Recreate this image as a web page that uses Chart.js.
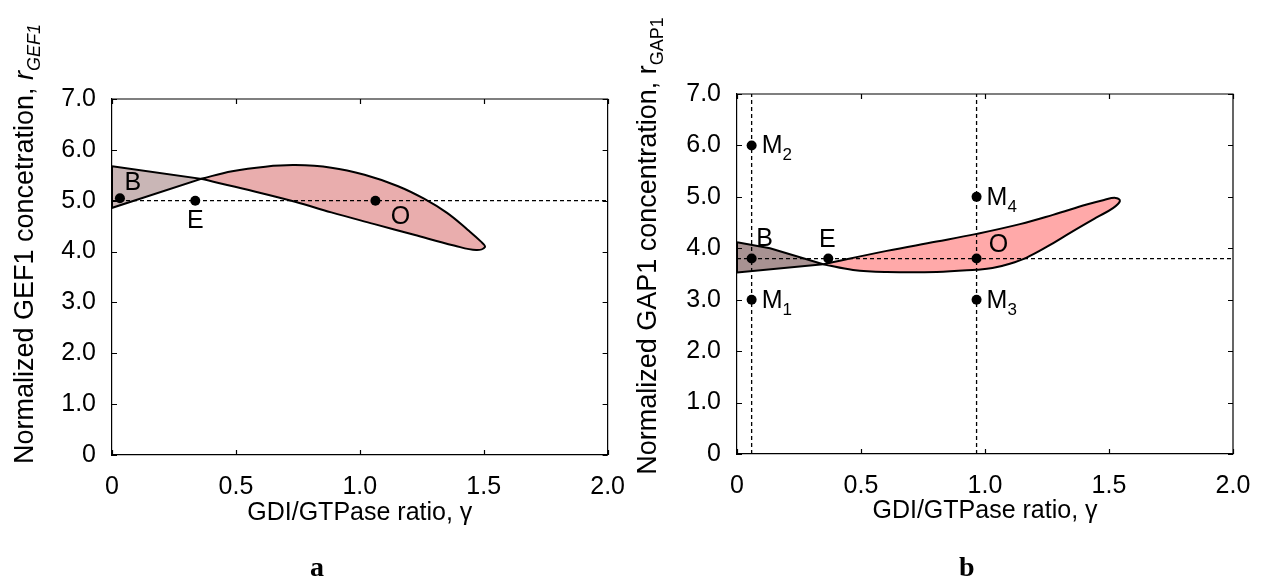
<!DOCTYPE html>
<html>
<head>
<meta charset="utf-8">
<script src="https://cdn.jsdelivr.net/npm/chart.js@4.4.0/dist/chart.umd.min.js"></script>
<style>
  body { margin: 0; background: #fff; width: 1268px; height: 585px; position: relative; overflow: hidden; }
  canvas { position: absolute; top: 0; }
  #chartA { left: 0; }
  #chartB { left: 634px; }
  .tag { position: absolute; top: 551px; line-height: 1; font: bold 28px "Liberation Serif", "Times New Roman", serif; }
</style>
</head>
<body>
<canvas id="chartA" width="634" height="585"></canvas>
<canvas id="chartB" width="634" height="585"></canvas>
<div class="tag" style="left:310px">a</div>
<div class="tag" style="left:959px">b</div>
<script>
// tick values, shared by both panels
const xTickVals = [0, 0.5, 1.0, 1.5, 2.0];
const yTickVals = [0, 1, 2, 3, 4, 5, 6, 7];

// panel a: GEF1
const aBistable = [
  {x: 0, y: 5.68}, {x: 0.359, y: 5.43}, {x: 0, y: 4.86}, {x: 0, y: 5.68}
];
const aOscillating = [
  {x: 0.359, y: 5.43}, {x: 0.485, y: 5.58}, {x: 0.619, y: 5.67}, {x: 0.739, y: 5.70},
  {x: 0.885, y: 5.65}, {x: 1.019, y: 5.51}, {x: 1.152, y: 5.29}, {x: 1.259, y: 5.04},
  {x: 1.352, y: 4.76}, {x: 1.435, y: 4.43}, {x: 1.488, y: 4.20}, {x: 1.505, y: 4.09},
  {x: 1.470, y: 4.03}, {x: 1.380, y: 4.12}, {x: 1.219, y: 4.33}, {x: 1.059, y: 4.54},
  {x: 0.885, y: 4.77}, {x: 0.739, y: 4.98}, {x: 0.552, y: 5.21}, {x: 0.359, y: 5.43}
];
const aLevel = [{x: 0, y: 5.0}, {x: 2.0, y: 5.0}];
const aPoints = [{x: 0.032, y: 5.05}, {x: 0.336, y: 5.0}, {x: 1.063, y: 5.0}];
const aNames = ['B', 'E', 'O'];

// panel b: GAP1
const bBistable = [
  {x: 0, y: 4.12}, {x: 0.133, y: 4.0}, {x: 0.348, y: 3.69}, {x: 0, y: 3.53}, {x: 0, y: 4.12}
];
const bOscillating = [
  {x: 0.348, y: 3.69}, {x: 0.604, y: 3.95}, {x: 0.805, y: 4.13}, {x: 0.966, y: 4.28},
  {x: 1.141, y: 4.47}, {x: 1.274, y: 4.65}, {x: 1.410, y: 4.85}, {x: 1.480, y: 4.94},
  {x: 1.526, y: 4.98}, {x: 1.544, y: 4.92}, {x: 1.516, y: 4.78}, {x: 1.450, y: 4.60},
  {x: 1.350, y: 4.32}, {x: 1.250, y: 4.03}, {x: 1.168, y: 3.82}, {x: 1.100, y: 3.70},
  {x: 1.030, y: 3.615}, {x: 0.966, y: 3.585}, {x: 0.805, y: 3.54}, {x: 0.604, y: 3.54},
  {x: 0.468, y: 3.58}, {x: 0.348, y: 3.69}
];
const bLevel = [{x: 0, y: 3.8}, {x: 2.0, y: 3.8}];
const bCut1 = [{x: 0.059, y: 0}, {x: 0.059, y: 7}];
const bCut2 = [{x: 0.966, y: 0}, {x: 0.966, y: 7}];
const bPoints = [
  {x: 0.059, y: 6.0}, {x: 0.059, y: 3.8}, {x: 0.059, y: 3.0}, {x: 0.368, y: 3.8},
  {x: 0.966, y: 5.0}, {x: 0.966, y: 3.8}, {x: 0.966, y: 3.0}
];
const bNames = [['M', '2'], ['B', ''], ['M', '1'], ['E', ''], ['M', '4'], ['O', ''], ['M', '3']];

const FONT = '"Liberation Sans", Arial, sans-serif';

function fmt(v) {
  return v === 0 ? '0' : Number(v).toFixed(1);
}

function shape(data, color, tension) {
  return { data, showLine: true, fill: 'shape', backgroundColor: color, borderColor: '#000',
    borderWidth: 2, pointRadius: 0, tension, order: 3 };
}
function dashed(data) {
  return { data, showLine: true, fill: false, borderColor: '#000', borderWidth: 1.3,
    borderDash: [4, 3], pointRadius: 0, order: 2 };
}
function dots(data) {
  return { data, showLine: false, pointRadius: 5, pointBackgroundColor: '#000',
    pointBorderWidth: 0, order: 1 };
}

// draw a run of text pieces one after another
function richText(ctx, parts, x, y, align) {
  let w = 0;
  parts.forEach(p => { ctx.font = p.font; w += ctx.measureText(p.t).width; });
  let cx = align === 'center' ? x - w / 2 : x;
  ctx.textAlign = 'left';
  ctx.textBaseline = 'alphabetic';
  parts.forEach(p => {
    ctx.font = p.font;
    ctx.fillText(p.t, cx, y + (p.dy || 0));
    cx += ctx.measureText(p.t).width;
  });
}

const panelDeco = {
  id: 'panelDeco',
  afterDraw(chart, args, opts) {
    const { ctx, chartArea: a, scales: { x, y } } = chart;
    ctx.save();
    ctx.strokeStyle = '#000';
    ctx.lineWidth = 1.2;
    ctx.beginPath();
    ctx.moveTo(a.left, a.top);
    ctx.lineTo(a.right, a.top);
    ctx.lineTo(a.right, a.bottom);
    xTickVals.forEach(v => {
      const px = Math.round(x.getPixelForValue(v)) + 0.5;
      ctx.moveTo(px, a.bottom); ctx.lineTo(px, a.bottom - 5);
      ctx.moveTo(px, a.top); ctx.lineTo(px, a.top + 5);
    });
    yTickVals.forEach(v => {
      const py = Math.round(y.getPixelForValue(v)) + 0.5;
      ctx.moveTo(a.left, py); ctx.lineTo(a.left + 5, py);
      ctx.moveTo(a.right, py); ctx.lineTo(a.right - 5, py);
    });
    ctx.stroke();

    ctx.fillStyle = '#000';
    const big = '25px ' + FONT, small = '17px ' + FONT;
    opts.points.forEach((p, i) => {
      const [name, sub] = opts.names[i];
      const off = opts.offsets[i];
      const parts = [{t: name, font: big}];
      if (sub) parts.push({t: sub, font: small, dy: 7});
      richText(ctx, parts, x.getPixelForValue(p.x) + off[0], y.getPixelForValue(p.y) + off[1], off[2]);
    });

    // x axis title
    richText(ctx, [{t: 'GDI/GTPase ratio, \u03b3', font: '25px ' + FONT}],
      (a.left + a.right) / 2, opts.xTitleY, 'center');

    // y axis title, rotated
    ctx.save();
    ctx.translate(opts.yTitleX, opts.yTitleY);
    ctx.rotate(-Math.PI / 2);
    richText(ctx, opts.yTitle, 0, 0, 'center');
    ctx.restore();
    ctx.restore();
  }
};

function makePanel(id, datasets, pad, yWidth, xHeight, deco) {
  return new Chart(document.getElementById(id), {
    type: 'scatter',
    data: { datasets },
    options: {
      responsive: false,
      animation: false,
      devicePixelRatio: 1,
      layout: { padding: pad },
      plugins: { legend: { display: false }, tooltip: { enabled: false }, panelDeco: deco },
      scales: {
        x: {
          type: 'linear', min: 0, max: 2,
          afterFit: s => { s.height = xHeight; },
          afterBuildTicks: s => { s.ticks = xTickVals.map(v => ({value: v})); },
          grid: { display: false },
          border: { display: true, color: '#000', width: 1.2 },
          ticks: { padding: 9, color: '#000', font: { family: FONT, size: 25 }, callback: fmt, maxRotation: 0 }
        },
        y: {
          type: 'linear', min: 0, max: 7,
          afterFit: s => { s.width = yWidth; },
          afterBuildTicks: s => { s.ticks = yTickVals.map(v => ({value: v})); },
          grid: { display: false },
          border: { display: true, color: '#000', width: 1.2 },
          ticks: { padding: 8, color: '#000', font: { family: FONT, size: 25 }, callback: fmt }
        }
      }
    },
    plugins: [panelDeco]
  });
}

const it = '27px ' + FONT, itI = 'italic 27px ' + FONT, subI = 'italic 18px ' + FONT, sub = '18px ' + FONT;

makePanel('chartA', [
  dots(aPoints),
  dashed(aLevel),
  shape(aBistable, '#c9b6b6', 0),
  shape(aOscillating, '#e9adad', 0.4)
], { top: 99, right: 22, left: 0, bottom: 0 }, 112, 130, {
  points: aPoints,
  names: aNames.map(n => [n, '']),
  offsets: [[13, -8, 'center'], [0, 27, 'center'], [25, 23, 'center']],
  xTitleY: 520,
  yTitleX: 33,
  yTitleY: 244,
  yTitle: [
    {t: 'Normalized GEF1 concetration, ', font: it},
    {t: 'r', font: itI},
    {t: 'GEF1', font: subI, dy: 7}
  ]
});

makePanel('chartB', [
  dots(bPoints),
  dashed(bLevel),
  dashed(bCut1),
  dashed(bCut2),
  shape(bBistable, '#a89292', 0),
  shape(bOscillating, '#ffa9a9', 0.4)
], { top: 94, right: 35, left: 0, bottom: 0 }, 103, 131, {
  points: bPoints,
  names: bNames,
  offsets: [[10, 8, 'left'], [13, -13, 'center'], [10, 8, 'left'], [-1, -12, 'center'],
            [10, 8, 'left'], [22, -7, 'center'], [10, 8, 'left']],
  xTitleY: 518,
  yTitleX: 22,
  yTitleY: 246,
  yTitle: [
    {t: 'Normalized GAP1 concentration, r', font: it},
    {t: 'GAP1', font: sub, dy: 7}
  ]
});
</script>
</body>
</html>
